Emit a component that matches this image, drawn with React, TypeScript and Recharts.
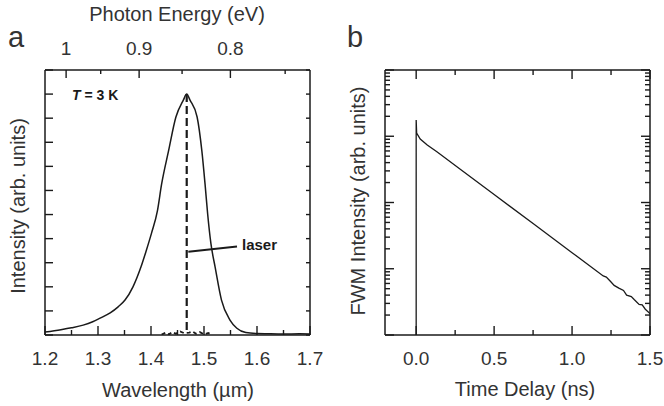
import { LineChart, Line, XAxis, YAxis, ReferenceLine } from "recharts";

const HC = 1.23984; // eV * um

// panel a: photoluminescence spectrum
const wavelengthMajor = [1.2, 1.3, 1.4, 1.5, 1.6, 1.7];
const wavelengthMinor = [1.25, 1.35, 1.45, 1.55, 1.65];
const wavelengthLabels = ["1.2", "1.3", "1.4", "1.5", "1.6", "1.7"];
const energyMajor = [1, 0.9, 0.8];
const energyMinor = [0.95, 0.85, 0.75];
const energyLabels = ["1", "0.9", "0.8"];
const intensityTicks = [0, 1, 2, 3, 4, 5, 6, 7, 8, 9, 10, 11];

const plWavelength = [
  1.2, 1.23, 1.25, 1.272, 1.29, 1.304, 1.323, 1.338, 1.351, 1.366, 1.381, 1.391,
  1.401, 1.412, 1.42, 1.433, 1.447, 1.461, 1.4674, 1.4736, 1.487, 1.496, 1.502,
  1.507, 1.513, 1.521, 1.533, 1.549, 1.562, 1.579, 1.6, 1.62, 1.65, 1.68, 1.7,
];
const plIntensity = [
  0.12, 0.22, 0.3, 0.41, 0.55, 0.7, 0.92, 1.17, 1.45, 2.0, 2.82, 3.5,
  4.23, 5.14, 6.26, 7.63, 9.05, 9.75, 10.0, 9.75, 9.05, 7.63, 6.26,
  5.0, 3.8, 2.82, 1.45, 0.62, 0.28, 0.1, 0.06, 0.05, 0.04, 0.05, 0.04,
];

// laser line (narrow) and its baseline noise
const laserWavelength = [1.4674, 1.4674];
const laserIntensity = [10, 0.15];
const noiseWavelength = [
  1.42, 1.428, 1.434, 1.44, 1.447, 1.455, 1.462, 1.472, 1.478, 1.485, 1.492,
  1.5, 1.508, 1.515,
];
const noiseIntensity = [
  0.02, 0.1, 0.03, 0.12, 0.05, 0.15, 0.08, 0.1, 0.15, 0.05, 0.12, 0.03, 0.08, 0.02,
];

// panel b: FWM decay
const delayMajor = [0, 0.5, 1.0, 1.5];
const delayMinor = [0.25, 0.75, 1.25];
const delayLabels = ["0.0", "0.5", "1.0", "1.5"];
const decades = [1e-4, 1e-3, 1e-2, 1e-1, 1];
const subDecade = [2, 3, 4, 5, 6, 7, 8, 9];

const fwmDelay = [
  0, 0, 0.003, 0.026, 0.071, 0.135, 0.3, 0.5, 0.75, 1.0, 1.2, 1.22, 1.25, 1.27,
  1.3, 1.33, 1.35, 1.38, 1.4, 1.43, 1.45, 1.47, 1.5,
];
const fwmSignal = [
  1e-4, 0.176, 0.112, 0.0908, 0.0738, 0.0578, 0.0297, 0.0132, 0.00481, 0.00175,
  7.8e-4, 7.5e-4, 6.3e-4, 5.6e-4, 5.1e-4, 4.7e-4, 4.0e-4, 3.8e-4, 3.4e-4,
  2.9e-4, 2.85e-4, 2.45e-4, 2.1e-4,
];

const plData = plWavelength.map((x, i) => ({ x, y: plIntensity[i] }));
const laserData = laserWavelength.map((x, i) => ({ x, y: laserIntensity[i] }));
const noiseData = noiseWavelength.map((x, i) => ({ x, y: noiseIntensity[i] }));
const fwmData = fwmDelay.map((x, i) => ({ x, y: fwmSignal[i] }));

const energyMajorPos = energyMajor.map((e) => HC / e);
const energyMinorPos = energyMinor.map((e) => HC / e);
const logTicks = decades.flatMap((d, i) =>
  i < decades.length - 1 ? [d, ...subDecade.map((m) => m * d)] : [d]
);

const INK = "#1a1a1a";
const TEXT = "#333";
const FONT = "'Liberation Sans', Arial, Helvetica, sans-serif";

type Side = "top" | "bottom" | "left" | "right";

const same = (a: number, b: number) => Math.abs(a - b) <= 1e-9 * Math.max(1e-6, Math.abs(a));

// inward ticks, labels only on the major ones
const makeTick =
  (side: Side, majors: number[], majorLen: number, minorLen: number, labels?: string[]) =>
  (props: any) => {
    const { x, y, payload } = props;
    const idx = majors.findIndex((m) => same(m, payload.value));
    const len = idx >= 0 ? majorLen : minorLen;
    let x2 = x, y2 = y;
    if (side === "bottom") y2 = y - len;
    if (side === "top") y2 = y + len;
    if (side === "left") x2 = x + len;
    if (side === "right") x2 = x - len;
    const label = idx >= 0 && labels ? labels[idx] : null;
    return (
      <g>
        <line x1={x} y1={y} x2={x2} y2={y2} stroke={INK} strokeWidth={1.4} />
        {label && (
          <text
            x={x}
            y={side === "bottom" ? y + 30 : y - 15}
            textAnchor="middle"
            fontSize={19}
            fontFamily={FONT}
            fill={TEXT}
          >
            {label}
          </text>
        )}
      </g>
    );
  };

const axisLine = { stroke: INK, strokeWidth: 1.5 };

function PanelA() {
  return (
    <LineChart width={340} height={406} margin={{ top: 0, right: 0, bottom: 0, left: 0 }}>
      <XAxis
        xAxisId="bottom"
        dataKey="x"
        type="number"
        orientation="bottom"
        domain={[1.2, 1.7]}
        ticks={[...wavelengthMajor, ...wavelengthMinor]}
        height={71}
        interval={0}
        tickSize={0}
        tickMargin={0}
        tickLine={false}
        axisLine={axisLine}
        tick={makeTick("bottom", wavelengthMajor, 9, 5, wavelengthLabels)}
        allowDataOverflow
      />
      <XAxis
        xAxisId="top"
        dataKey="x"
        type="number"
        orientation="top"
        domain={[1.2, 1.7]}
        ticks={[...energyMajorPos, ...energyMinorPos]}
        height={70}
        interval={0}
        tickSize={0}
        tickMargin={0}
        tickLine={false}
        axisLine={axisLine}
        tick={makeTick("top", energyMajorPos, 8, 4, energyLabels)}
        allowDataOverflow
      />
      <YAxis
        yAxisId="left"
        type="number"
        domain={[0, 11]}
        ticks={intensityTicks}
        width={45}
        interval={0}
        tickSize={0}
        tickMargin={0}
        tickLine={false}
        axisLine={axisLine}
        tick={makeTick("left", intensityTicks, 8, 8)}
        allowDataOverflow
      />
      <YAxis
        yAxisId="right"
        orientation="right"
        type="number"
        domain={[0, 11]}
        ticks={intensityTicks}
        width={30}
        interval={0}
        tickSize={0}
        tickMargin={0}
        tickLine={false}
        axisLine={axisLine}
        tick={makeTick("right", intensityTicks, 4, 4)}
        allowDataOverflow
      />
      <Line
        xAxisId="bottom"
        yAxisId="left"
        data={plData}
        dataKey="y"
        type="monotone"
        stroke={INK}
        strokeWidth={1.5}
        dot={false}
        isAnimationActive={false}
      />
      <Line
        xAxisId="top"
        yAxisId="right"
        data={laserData}
        dataKey="y"
        type="linear"
        stroke={INK}
        strokeWidth={2.2}
        strokeDasharray="8 4"
        dot={false}
        isAnimationActive={false}
      />
      <Line
        xAxisId="top"
        yAxisId="right"
        data={noiseData}
        dataKey="y"
        type="linear"
        stroke={INK}
        strokeWidth={1.8}
        strokeDasharray="4 3"
        dot={false}
        isAnimationActive={false}
      />
      <ReferenceLine
        xAxisId="bottom"
        yAxisId="left"
        segment={[
          { x: 1.4704, y: 3.46 },
          { x: 1.5623, y: 3.67 },
        ]}
        stroke={INK}
        strokeWidth={2}
      />
      <text x={242} y={250} fontSize={15} fontWeight="bold" fontFamily={FONT} fill={INK}>
        laser
      </text>
      <text x={72} y={100} fontSize={14} fontWeight="bold" fontFamily={FONT} fill={INK}>
        <tspan fontStyle="italic">T</tspan> = 3 K
      </text>
      <text x={8} y={47} fontSize={29} fontFamily={FONT} fill={TEXT}>a</text>
      <text x={177} y={21} fontSize={20} textAnchor="middle" fontFamily={FONT} fill={TEXT}>
        Photon Energy (eV)
      </text>
      <text x={178} y={397} fontSize={20} textAnchor="middle" fontFamily={FONT} fill={TEXT}>
        Wavelength (µm)
      </text>
      <text
        x={25}
        y={206}
        fontSize={20}
        textAnchor="middle"
        fontFamily={FONT}
        fill={TEXT}
        transform="rotate(-90 25 206)"
      >
        Intensity (arb. units)
      </text>
    </LineChart>
  );
}

function PanelB() {
  return (
    <LineChart width={324} height={406} margin={{ top: 0, right: 0, bottom: 0, left: 0 }}>
      <XAxis
        xAxisId="bottom"
        dataKey="x"
        type="number"
        orientation="bottom"
        domain={[-0.2, 1.5]}
        ticks={[...delayMajor, ...delayMinor]}
        height={71}
        interval={0}
        tickSize={0}
        tickMargin={0}
        tickLine={false}
        axisLine={axisLine}
        tick={makeTick("bottom", delayMajor, 9, 5, delayLabels)}
        allowDataOverflow
      />
      <XAxis
        xAxisId="top"
        dataKey="x"
        type="number"
        orientation="top"
        domain={[-0.2, 1.5]}
        ticks={[...delayMajor, ...delayMinor]}
        height={70}
        interval={0}
        tickSize={0}
        tickMargin={0}
        tickLine={false}
        axisLine={axisLine}
        tick={makeTick("top", delayMajor, 9, 5)}
        allowDataOverflow
      />
      <YAxis
        yAxisId="left"
        type="number"
        scale="log"
        domain={[1e-4, 1]}
        ticks={logTicks}
        width={45}
        interval={0}
        tickSize={0}
        tickMargin={0}
        tickLine={false}
        axisLine={axisLine}
        tick={makeTick("left", decades, 9, 5)}
        allowDataOverflow
      />
      <YAxis
        yAxisId="right"
        orientation="right"
        type="number"
        scale="log"
        domain={[1e-4, 1]}
        ticks={logTicks}
        width={14}
        interval={0}
        tickSize={0}
        tickMargin={0}
        tickLine={false}
        axisLine={axisLine}
        tick={makeTick("right", decades, 9, 5)}
        allowDataOverflow
      />
      <Line
        xAxisId="bottom"
        yAxisId="left"
        data={fwmData}
        dataKey="y"
        type="linear"
        stroke={INK}
        strokeWidth={1.3}
        dot={false}
        isAnimationActive={false}
      />
      <Line
        xAxisId="top"
        yAxisId="right"
        data={fwmData}
        dataKey="y"
        type="linear"
        stroke="none"
        dot={false}
        isAnimationActive={false}
      />
      <text x={7} y={47} fontSize={29} fontFamily={FONT} fill={TEXT}>b</text>
      <text x={185} y={396} fontSize={20} textAnchor="middle" fontFamily={FONT} fill={TEXT}>
        Time Delay (ns)
      </text>
      <text
        x={25}
        y={201}
        fontSize={20}
        textAnchor="middle"
        fontFamily={FONT}
        fill={TEXT}
        transform="rotate(-90 25 201)"
      >
        FWM Intensity (arb. units)
      </text>
    </LineChart>
  );
}

export default function App() {
  return (
    <div
      style={{
        position: "absolute",
        left: 0,
        top: 0,
        width: 664,
        height: 406,
        background: "#fff",
        overflow: "hidden",
      }}
    >
      <div style={{ position: "absolute", left: 0, top: 0 }}>
        <PanelA />
      </div>
      <div style={{ position: "absolute", left: 340, top: 0 }}>
        <PanelB />
      </div>
    </div>
  );
}
